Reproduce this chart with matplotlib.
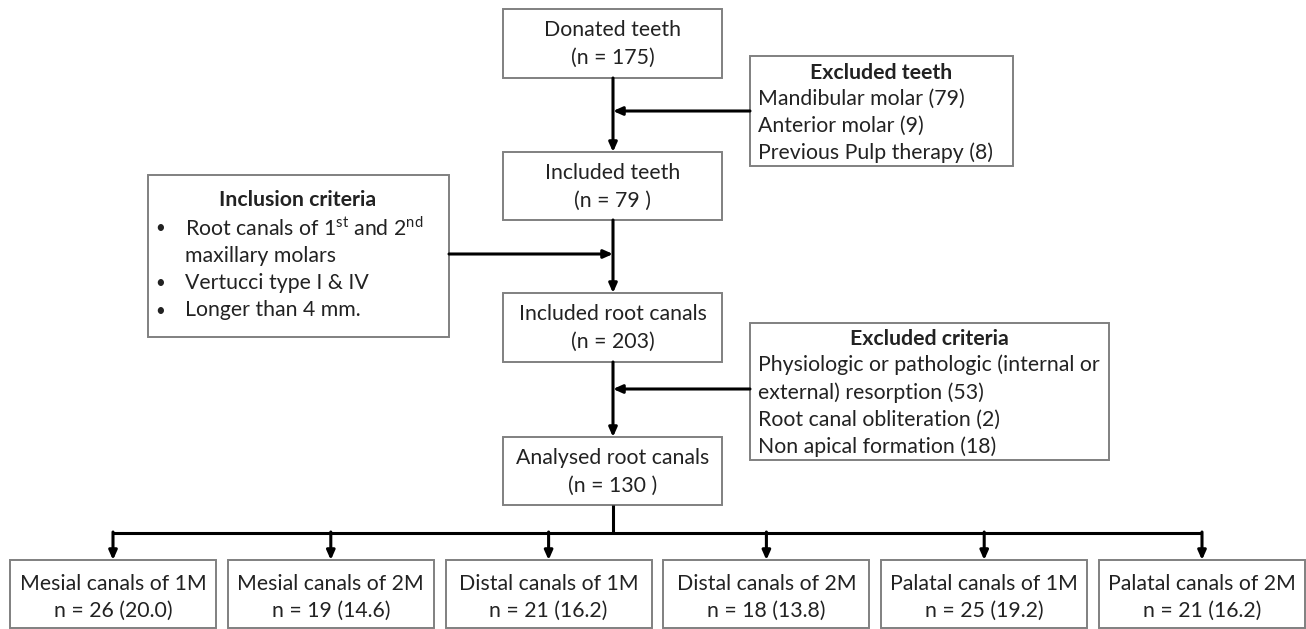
import matplotlib
matplotlib.use("Agg")
import matplotlib.pyplot as plt
from matplotlib import patches

# Flow stages (main column)
stages = ["Donated teeth", "Included teeth", "Included root canals", "Analysed root canals"]
stage_n = ["175", "79 ", "203", "130 "]

# Side boxes
excl_teeth_title = "Excluded teeth"
excl_teeth_items = ["Mandibular molar (79)", "Anterior molar (9)", "Previous Pulp therapy (8)"]

incl_title = "Inclusion criteria"
incl_items = [
    ["Root canals of 1$^{\\mathrm{st}}$ and 2$^{\\mathrm{nd}}$", "maxillary molars"],
    ["Vertucci type I & IV"],
    ["Longer than 4 mm."],
]

excl_crit_title = "Excluded criteria"
excl_crit_items = [
    "Physiologic or pathologic (internal or",
    "external) resorption (53)",
    "Root canal obliteration (2)",
    "Non apical formation (18)",
]

# Final groups
groups = ["Mesial canals of 1M", "Mesial canals of 2M", "Distal canals of 1M",
          "Distal canals of 2M", "Palatal canals of 1M", "Palatal canals of 2M"]
counts = [26, 19, 21, 18, 25, 21]
pcts = [20.0, 14.6, 16.2, 13.8, 19.2, 16.2]

plt.rcParams['font.family'] = ['Lato', 'DejaVu Sans']
plt.rcParams['mathtext.fontset'] = 'custom'
plt.rcParams['mathtext.rm'] = 'Lato'
FS = 15.3
TXT = '#222222'
EDGE = '#808080'

fig = plt.figure(figsize=(13.06, 6.29), dpi=100)
ax = fig.add_axes([0, 0, 1, 1])
ax.set_xlim(0, 1306)
ax.set_ylim(629, 0)
ax.axis('off')


def box(x0, y0, x1, y1):
    ax.add_patch(patches.Rectangle((x0, y0), x1 - x0, y1 - y0, fill=False,
                                   edgecolor=EDGE, linewidth=1.4, zorder=2))


def arrow(x0, y0, x1, y1):
    ax.annotate('', xy=(x1, y1), xytext=(x0, y0),
                arrowprops=dict(arrowstyle='-|>,head_length=0.45,head_width=0.2',
                                lw=2.2, color='black', shrinkA=0, shrinkB=0,
                                mutation_scale=12), zorder=3)


def line(xs, ys):
    ax.plot(xs, ys, color='black', lw=2.2, solid_capstyle='butt', zorder=3)


# main column
cx = 613
main_boxes = [(9, 78), (152, 220), (293, 362), (437, 505)]
for (top, bot), name, n in zip(main_boxes, stages, stage_n):
    box(503, top, 722, bot)
    ax.text(cx, top + 21, name, ha='center', va='center', fontsize=FS, color=TXT)
    ax.text(cx, top + 49, f"(n = {n})", ha='center', va='center', fontsize=FS, color=TXT)

for i in range(3):
    arrow(cx, main_boxes[i][1], cx, main_boxes[i + 1][0])

# excluded teeth
box(750, 56, 1013, 166)
ax.text(881, 73, excl_teeth_title, ha='center', va='center', fontsize=FS,
        color=TXT, fontweight='bold')
for k, s in enumerate(excl_teeth_items):
    ax.text(758, 99 + 27 * k, s, ha='left', va='center', fontsize=FS, color=TXT)
arrow(750, 111, cx, 111)

# inclusion criteria
box(148, 175, 449, 337)
ax.text(298, 200, incl_title, ha='center', va='center', fontsize=FS,
        color=TXT, fontweight='bold')
yy = 228
for item in incl_items:
    ax.text(160, yy, "\u2022", ha='center', va='center', fontsize=FS * 0.8, color=TXT)
    for s in item:
        ax.text(185, yy, s, ha='left', va='center', fontsize=FS, color=TXT)
        yy += 27.5
arrow(449, 254, cx, 254)

# excluded criteria
box(750, 323, 1109, 460)
ax.text(929, 339, excl_crit_title, ha='center', va='center', fontsize=FS,
        color=TXT, fontweight='bold')
for k, s in enumerate(excl_crit_items):
    ax.text(758, 365 + 27.3 * k, s, ha='left', va='center', fontsize=FS, color=TXT)
arrow(750, 389, cx, 389)

# split to groups
bw = 206
lefts = [10 + 217.8 * i for i in range(len(groups))]
centers = [l + bw / 2 for l in lefts]
line([cx, cx], [505, 533])
line([centers[0], centers[-1]], [533, 533])
for l, c, g, n, p in zip(lefts, centers, groups, counts, pcts):
    arrow(c, 532, c, 560)
    box(l, 560, l + bw, 628)
    ax.text(c, 584, g, ha='center', va='center', fontsize=FS, color=TXT)
    ax.text(c, 611, f"n = {n} ({p:.1f})", ha='center', va='center', fontsize=FS, color=TXT)

fig.savefig('out.png', dpi=100)
